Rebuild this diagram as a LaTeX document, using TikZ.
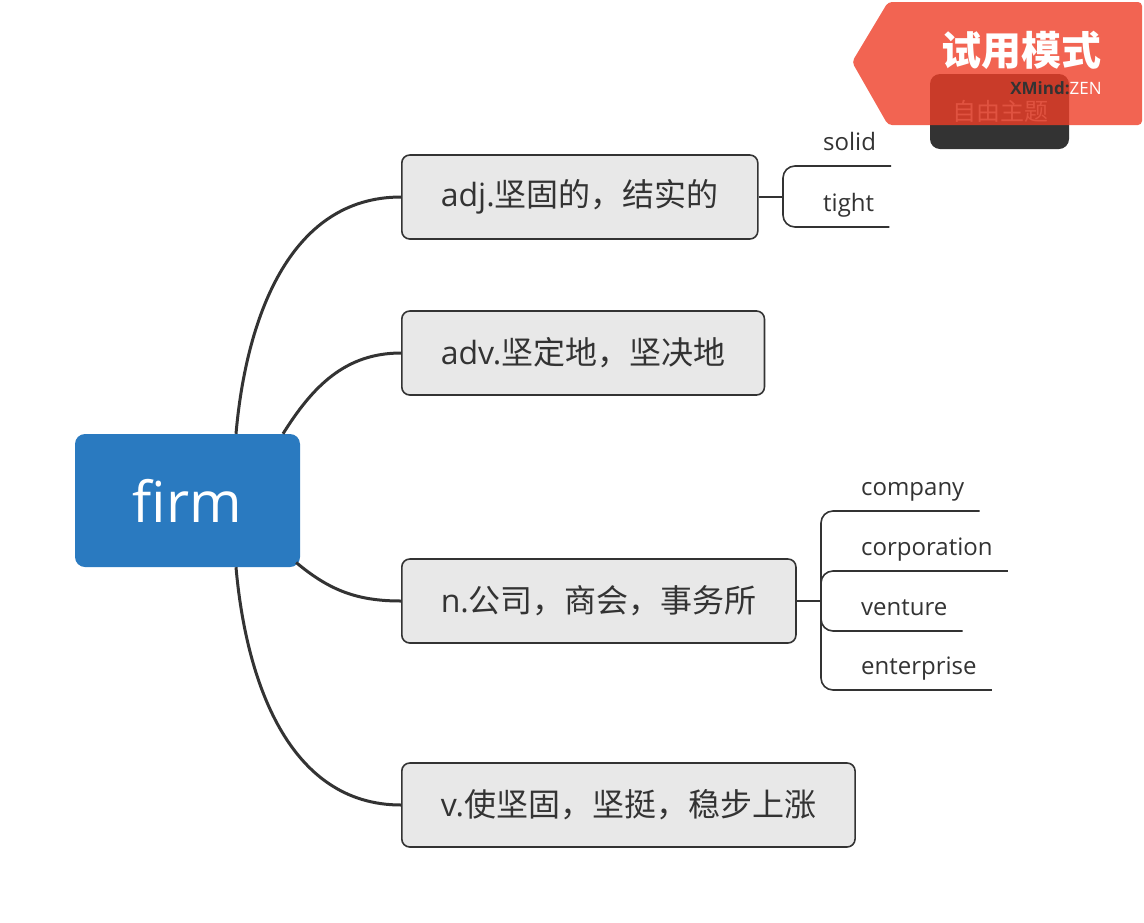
\documentclass[tikz,border=0pt]{standalone}
\usepackage{fontspec}
\setmainfont{Open Sans}
\newfontfamily\cjk{Noto Sans CJK SC}
\usetikzlibrary{positioning,calc}
\definecolor{rootblue}{HTML}{2A7AC0}
\definecolor{boxgray}{HTML}{E8E8E8}
\definecolor{inkgray}{HTML}{333333}
\definecolor{trialred}{HTML}{EF3E27}

\begin{document}
\begin{tikzpicture}[x=1pt,y=1pt,
    root/.style={fill=rootblue,rounded corners=10pt,text=white,minimum width=225pt,minimum height=133pt,font=\fontsize{56.5}{60}\selectfont},
    topic/.style={draw=inkgray,line width=1.6pt,fill=boxgray,rounded corners=8pt,anchor=west,minimum height=84pt,inner xsep=39pt,text=inkgray,font=\fontsize{32}{36}\selectfont},
    leaf/.style={anchor=south west,inner xsep=15pt,inner ysep=10pt,text depth=5pt,text=inkgray,font=\fontsize{24}{28}\selectfont},
    link/.style={draw=inkgray,line width=3pt},
    sublink/.style={draw=inkgray,line width=1.6pt,rounded corners=12pt}]
    \useasboundingbox[fill=white] (0,0) rectangle (1144,-922);

    % central topic and main branches
    \node[root] (firm) at (187.5,-500.5) {firm};
    \node[topic] (adj) at (401,-197) {adj.{\cjk 坚固的，结实的}};
    \node[topic] (adv) at (401,-353) {adv.{\cjk 坚定地，坚决地}};
    \node[topic] (noun) at (401,-601) {n.{\cjk 公司，商会，事务所}};
    \node[topic] (verb) at (401,-805) {v.{\cjk 使坚固，坚挺，稳步上涨}};

    \draw[link] ($(firm.north)+(48.5,0)$) to[out=85,in=180] (adj.west);
    \draw[link] ($(firm.north)+(95.5,0)$) to[out=58,in=180] (adv.west);
    \draw[link] ($(firm.east)+(-4,-62)$) to[out=-40,in=180] (noun.west);
    \draw[link] ($(firm.south)+(48.5,0)$) to[out=-85,in=180] (verb.west);

    % subtopics
    \node[leaf] (solid) at (808,-166) {solid};
    \node[leaf] (tight) at (808,-227) {tight};
    \node[leaf] (company) at (846,-511) {company};
    \node[leaf] (corporation) at (846,-571) {corporation};
    \node[leaf] (venture) at (846,-631) {venture};
    \node[leaf] (enterprise) at (846,-690) {enterprise};

    \coordinate (adjJ) at (783,-197);
    \coordinate (nounJ) at (821,-601);
    \draw[sublink] (adj.east) -- (adjJ);
    \draw[sublink] (noun.east) -- (nounJ);
    \foreach \leafname in {solid,tight}
      \draw[sublink] (adjJ) |- (\leafname.south west) -- (\leafname.south east);
    \foreach \leafname in {company,corporation,venture,enterprise}
      \draw[sublink] (nounJ) |- (\leafname.south west) -- (\leafname.south east);

    % trial watermark
    \fill[inkgray,rounded corners=10pt] (930,-74) rectangle (1069,-149);
    \node[text=black!35,font=\cjk\fontsize{24}{26}\selectfont] (free) at (1000,-111) {自由主题};
    \fill[trialred,opacity=0.8,rounded corners=4pt] (852,-62) -- (888,-2) -- (1142,-2) -- (1142,-125) -- (888,-125) -- cycle;
    \node[text=white,font=\cjk\bfseries\fontsize{40}{44}\selectfont] (trial) at (1021,-50) {试用模式};
    \node[font=\fontsize{17}{19}\selectfont] (brand) at (1056,-88) {{\color{inkgray}\bfseries XMind:}{\color{white}ZEN}};
\end{tikzpicture}
\end{document}
